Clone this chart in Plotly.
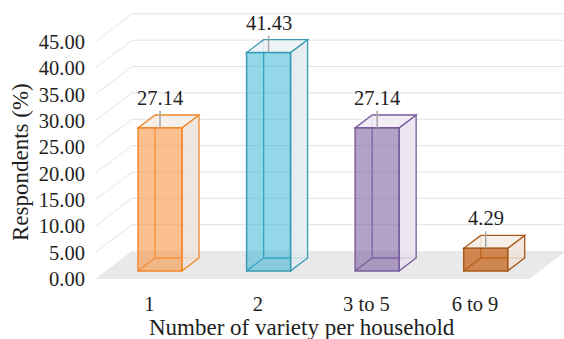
import plotly.graph_objects as go

# ---- data ----
categories = ["1", "2", "3 to 5", "6 to 9"]
respondents = [27.14, 41.43, 27.14, 4.29]
y_tick_values = [0, 5, 10, 15, 20, 25, 30, 35, 40, 45]
y_tick_labels = [f"{v:.2f}" for v in y_tick_values]

# ---- styling ----
front_fill = ["rgba(247,150,70,0.6)", "rgba(40,175,210,0.5)",
              "rgba(128,100,162,0.6)", "rgba(196,100,25,0.75)"]
edge_color = ["#F2882C", "#3A9AB3", "#7A5C9E", "#A8581A"]
side_fill = ["rgba(236,226,218,0.85)", "rgba(226,234,238,0.85)",
             "rgba(232,226,236,0.85)", "rgba(240,226,218,0.85)"]
top_fill = ["rgba(244,238,234,0.9)", "rgba(236,242,245,0.9)",
            "rgba(240,236,244,0.9)", "rgba(246,238,232,0.9)"]
FONT = "Liberation Serif, Times New Roman, serif"
TEXT = "#1e1e1e"
GRID = "#E3E3E3"

W, H = 564, 339
ML, MR, MT, MB = 95, 0, 5, 60
X_RANGE = [-0.5, 3.82]
Y_RANGE = [0, 52]
plot_w = W - ML - MR
plot_h = H - MT - MB
px_x = plot_w / (X_RANGE[1] - X_RANGE[0])
px_y = plot_h / (Y_RANGE[1] - Y_RANGE[0])

# oblique projection: depth vector of the whole floor, in data units
DX = 37 / px_x
DY = 28 / px_y
Z_FRONT, Z_BACK = 0.29, 0.75   # bar slab position inside the floor depth
HALF_W = 0.2025


def proj(x, v, z):
    return x + z * DX, v + z * DY


def poly(points):
    pts = [proj(*p) for p in points]
    return "M " + " L ".join(f"{x},{y}" for x, y in pts) + " Z"


shapes = []

# floor
shapes.append(dict(type="path", xref="x", yref="y", layer="below",
                   path=poly([(-0.5, 0, 0), (3.5, 0, 0), (3.5, 0, 1), (-0.5, 0, 1)]),
                   fillcolor="#E9E9E9", line=dict(width=0)))

# left wall and back wall gridlines
for v in y_tick_values:
    x0, y0 = proj(-0.5, v, 0)
    x1, y1 = proj(-0.5, v, 1)
    x2, y2 = proj(3.5, v, 1)
    if v > 0:
        shapes.append(dict(type="line", xref="x", yref="y", layer="below",
                           x0=x0, y0=y0, x1=x1, y1=y1, line=dict(color=GRID, width=1)))
        shapes.append(dict(type="line", xref="x", yref="y", layer="below",
                           x0=x1, y0=y1, x1=x2, y1=y2, line=dict(color=GRID, width=1)))

annotations = []
front_x, front_base = [], []
for i, v in enumerate(respondents):
    xl, xr = i - HALF_W, i + HALF_W
    col = edge_color[i]
    # hidden back edges, seen through the translucent front
    for a, b in [((xl, 0, Z_BACK), (xl, v, Z_BACK)),
                 ((xl, 0, Z_BACK), (xr, 0, Z_BACK)),
                 ((xl, 0, Z_FRONT), (xl, 0, Z_BACK))]:
        (ax, ay), (bx, by) = proj(*a), proj(*b)
        shapes.append(dict(type="line", xref="x", yref="y", layer="below",
                           x0=ax, y0=ay, x1=bx, y1=by, line=dict(color=col, width=1.3)))
    # right side face
    shapes.append(dict(type="path", xref="x", yref="y", layer="below",
                       path=poly([(xr, 0, Z_FRONT), (xr, 0, Z_BACK), (xr, v, Z_BACK), (xr, v, Z_FRONT)]),
                       fillcolor=side_fill[i], line=dict(color=col, width=1.3)))
    # top face
    shapes.append(dict(type="path", xref="x", yref="y", layer="below",
                       path=poly([(xl, v, Z_FRONT), (xr, v, Z_FRONT), (xr, v, Z_BACK), (xl, v, Z_BACK)]),
                       fillcolor=top_fill[i], line=dict(color=col, width=1.3)))
    cx, base = proj(i, 0, Z_FRONT)
    front_x.append(cx)
    front_base.append(base)
    # leader line and value label
    shapes.append(dict(type="line", xref="x", yref="y", layer="above",
                       x0=cx, y0=base + v, x1=cx, y1=base + v + 17 / px_y,
                       line=dict(color="#A6A6A6", width=1.5)))
    annotations.append(dict(x=cx, y=base + v, xref="x", yref="y", text=f"{v:.2f}",
                            showarrow=False, yanchor="middle", yshift=30,
                            font=dict(family=FONT, size=20.5, color=TEXT)))

fig = go.Figure(go.Bar(
    x=front_x, y=respondents, base=front_base, width=2 * HALF_W,
    marker=dict(color=front_fill, line=dict(color=edge_color, width=1.5)),
    hoverinfo="skip",
))

# axis titles
annotations.append(dict(xref="paper", yref="paper", x=(20 - ML) / plot_w, y=(H - MB - 162) / plot_h,
                        text="Respondents (%)", textangle=-90, showarrow=False,
                        xanchor="center", yanchor="middle",
                        font=dict(family=FONT, size=23, color=TEXT)))
annotations.append(dict(xref="paper", yref="paper", x=(302 - ML) / plot_w, y=(H - MB - 327) / plot_h,
                        text="Number of variety per household", showarrow=False,
                        xanchor="center", yanchor="middle",
                        font=dict(family=FONT, size=23, color=TEXT)))

fig.update_layout(
    width=W, height=H,
    margin=dict(l=ML, r=MR, t=MT, b=MB, pad=0),
    paper_bgcolor="white", plot_bgcolor="white",
    showlegend=False,
    shapes=shapes, annotations=annotations,
    xaxis=dict(range=X_RANGE, tickvals=[0, 1, 2, 3], ticktext=categories,
               showgrid=False, zeroline=False, showline=False,
               ticks="outside", ticklen=6, tickcolor="rgba(0,0,0,0)",
               tickfont=dict(family=FONT, size=20.5, color=TEXT), fixedrange=True),
    yaxis=dict(range=Y_RANGE, tickvals=y_tick_values, ticktext=y_tick_labels,
               showgrid=False, zeroline=False, showline=False,
               ticks="outside", ticklen=5, tickcolor="rgba(0,0,0,0)",
               tickfont=dict(family=FONT, size=20.5, color=TEXT), fixedrange=True),
)

fig.write_html("out.html")
